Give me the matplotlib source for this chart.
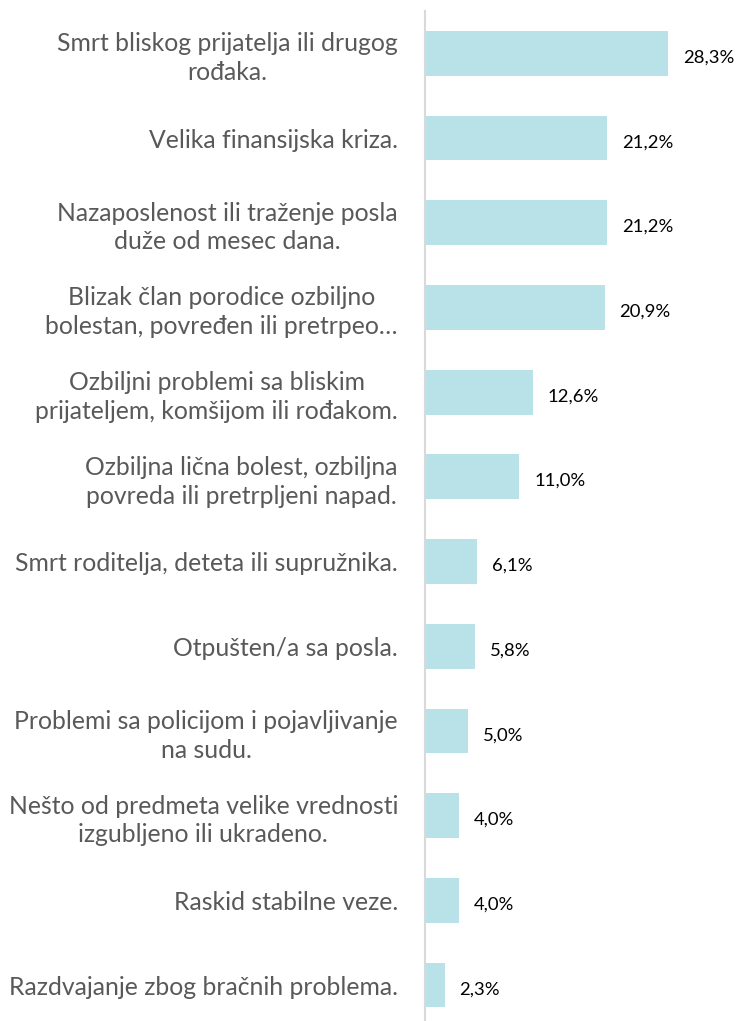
import matplotlib
matplotlib.use("Agg")
import matplotlib.pyplot as plt

categories = [
    "Smrt bliskog prijatelja ili drugog\nrođaka.",
    "Velika finansijska kriza.",
    "Nazaposlenost ili traženje posla\nduže od mesec dana.",
    "Blizak član porodice ozbiljno\nbolestan, povređen ili pretrpeo…",
    "Ozbiljni problemi sa bliskim\nprijateljem, komšijom ili rođakom.",
    "Ozbiljna lična bolest, ozbiljna\npovreda ili pretrpljeni napad.",
    "Smrt roditelja, deteta ili supružnika.",
    "Otpušten/a sa posla.",
    "Problemi sa policijom i pojavljivanje\nna sudu.",
    "Nešto od predmeta velike vrednosti\nizgubljeno ili ukradeno.",
    "Raskid stabilne veze.",
    "Razdvajanje zbog bračnih problema.",
]
values = [28.3, 21.2, 21.2, 20.9, 12.6, 11.0, 6.1, 5.8, 5.0, 4.0, 4.0, 2.3]
value_labels = ["28,3%", "21,2%", "21,2%", "20,9%", "12,6%", "11,0%",
                "6,1%", "5,8%", "5,0%", "4,0%", "4,0%", "2,3%"]

W, H = 741, 1021
fig = plt.figure(figsize=(W / 100, H / 100), dpi=100)
ax_left = 425 / W
ax_top = 11 / H
band = 84.7
ax_h = band * 12 / H
ax = fig.add_axes([ax_left, 1 - ax_top - ax_h, 1 - ax_left, ax_h])

n = len(values)
ys = list(range(n))
ax.barh(ys, values, height=0.53, color="#b9e2e8", zorder=2)
ax.set_ylim(n - 0.5, -0.5)
ax.set_xlim(0, 316 / 8.59)

for y, v, lab in zip(ys, values, value_labels):
    ax.text(v + 1.7, y + 0.05, lab, va="center", ha="left",
            fontsize=13.3, color="#000000", family=["Lato", "DejaVu Sans"])

ax.set_yticks(ys)
ax.set_yticklabels(categories, fontsize=17.8, color="#595959",
                   family=["Lato", "DejaVu Sans"], multialignment="center",
                   linespacing=1.3)
ax.tick_params(axis="y", length=0, pad=19.5)
ax.set_xticks([])
for s in ["top", "right", "bottom"]:
    ax.spines[s].set_visible(False)
ax.spines["left"].set_color("#d9d9d9")
ax.spines["left"].set_linewidth(1.5)

fig.savefig("out.png", dpi=100)
